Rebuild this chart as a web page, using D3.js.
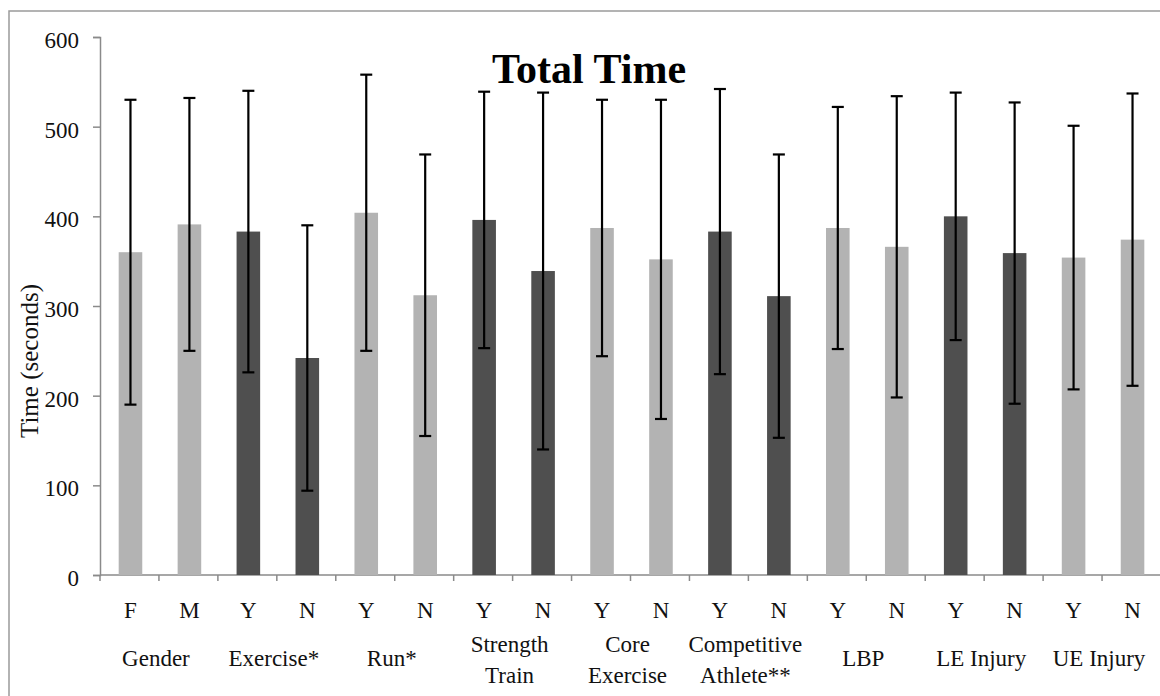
<!DOCTYPE html>
<html>
<head>
<meta charset="utf-8">
<script src="https://cdn.jsdelivr.net/npm/d3@7"></script>
<style>
  body { margin: 0; background: #fff; }
  svg { display: block; font-family: "Liberation Serif", "Times New Roman", serif; }
</style>
</head>
<body>
<svg></svg>
<script>
// groups (two-line labels split into lines), bar levels, means and SDs
const groups = [["Gender"], ["Exercise*"], ["Run*"], ["Strength", "Train"], ["Core", "Exercise"],
  ["Competitive", "Athlete**"], ["LBP"], ["LE Injury"], ["UE Injury"]];
const levels = ["F", "M", "Y", "N", "Y", "N", "Y", "N", "Y", "N", "Y", "N", "Y", "N", "Y", "N", "Y", "N"];
const means = [360, 391, 383, 242, 404, 312, 396, 339, 387, 352, 383, 311, 387, 366, 400, 359, 354, 374];
const sds = [170, 141, 157, 148, 154, 157, 143, 199, 143, 178, 159, 158, 135, 168, 138, 168, 147, 163];
const yTicks = [0, 100, 200, 300, 400, 500, 600];

const W = 1160, H = 696;
const mLeft = 100, mRight = 1161, mTop = 37, mBottom = 575;
const light = "#b3b3b3", dark = "#4f4f4f", axisCol = "#8a8a8a";

const svg = d3.select("svg").attr("width", W).attr("height", H);

// outer frame (only top and left edges fall inside the picture)
svg.append("rect")
  .attr("x", 9).attr("y", 11)
  .attr("width", W + 20).attr("height", H + 20)
  .attr("fill", "none")
  .attr("stroke", "#9a9a9a")
  .attr("stroke-width", 1.5);

const data = means.map((m, i) => ({ i, level: levels[i], mean: m, sd: sds[i], group: Math.floor(i / 2) }));

const x = d3.scaleBand().domain(d3.range(data.length)).range([mLeft, mRight]).padding(0);
const y = d3.scaleLinear().domain([0, 600]).range([mBottom, mTop]);
const bw = x.bandwidth() * 0.4;

// y axis
const yAxis = svg.append("g")
  .attr("transform", `translate(${mLeft},0)`)
  .call(d3.axisLeft(y).tickValues(yTicks).tickSize(7).tickPadding(14));
yAxis.select(".domain").attr("stroke", axisCol).attr("stroke-width", 1.5);
yAxis.selectAll(".tick line").attr("stroke", axisCol).attr("stroke-width", 1.5);
yAxis.selectAll(".tick text")
  .attr("font-size", 23).attr("fill", "#111")
  .attr("font-family", "Liberation Serif").attr("dy", "0.45em");

// x axis with ticks at band boundaries
svg.append("line")
  .attr("x1", mLeft).attr("x2", mRight)
  .attr("y1", mBottom).attr("y2", mBottom)
  .attr("stroke", axisCol).attr("stroke-width", 1.5);
svg.selectAll("line.xtick")
  .data(d3.range(data.length + 1))
  .join("line")
  .attr("class", "xtick")
  .attr("x1", d => mLeft + d * x.step()).attr("x2", d => mLeft + d * x.step())
  .attr("y1", mBottom).attr("y2", mBottom + 6)
  .attr("stroke", axisCol).attr("stroke-width", 1.5);

// bars
svg.selectAll("rect.bar")
  .data(data)
  .join("rect")
  .attr("class", "bar")
  .attr("x", d => x(d.i) + x.bandwidth() / 2 - bw / 2 + 1)
  .attr("width", bw)
  .attr("y", d => y(d.mean))
  .attr("height", d => y(0) - y(d.mean))
  .attr("fill", d => (d.group % 2 === 0 ? light : dark));

// error bars
const eb = svg.selectAll("g.err").data(data).join("g").attr("class", "err")
  .attr("stroke", "#000").attr("stroke-width", 2.2);
const cx = d => x(d.i) + x.bandwidth() / 2 + 1;
eb.append("line")
  .attr("x1", cx).attr("x2", cx)
  .attr("y1", d => y(d.mean + d.sd)).attr("y2", d => y(d.mean - d.sd));
[1, -1].forEach(s => {
  eb.append("line")
    .attr("x1", d => cx(d) - 6).attr("x2", d => cx(d) + 6)
    .attr("y1", d => y(d.mean + s * d.sd)).attr("y2", d => y(d.mean + s * d.sd));
});

// level labels
svg.selectAll("text.level")
  .data(data)
  .join("text")
  .attr("class", "level")
  .attr("x", d => x(d.i) + x.bandwidth() / 2 + 1)
  .attr("y", 618)
  .attr("text-anchor", "middle")
  .attr("font-size", 23)
  .attr("fill", "#111")
  .text(d => d.level);

// group labels
svg.selectAll("text.group")
  .data(groups)
  .join("text")
  .attr("class", "group")
  .attr("text-anchor", "middle")
  .attr("font-size", 23)
  .attr("fill", "#111")
  .each(function (lines, gi) {
    const gx = mLeft + x.step() * (gi * 2 + 1) - 3;
    const y0 = lines.length === 1 ? 666 : 652;
    d3.select(this).selectAll("tspan")
      .data(lines)
      .join("tspan")
      .attr("x", gx)
      .attr("y", (d, k) => y0 + k * 31)
      .text(d => d);
  });

// y axis title
svg.append("text")
  .attr("transform", "translate(38,361) rotate(-90)")
  .attr("text-anchor", "middle")
  .attr("font-size", 25)
  .attr("fill", "#111")
  .text("Time (seconds)");

// chart title
svg.append("text")
  .attr("x", 589).attr("y", 83)
  .attr("text-anchor", "middle")
  .attr("font-size", 42)
  .attr("font-weight", "bold")
  .attr("fill", "#000")
  .text("Total Time");
</script>
</body>
</html>
